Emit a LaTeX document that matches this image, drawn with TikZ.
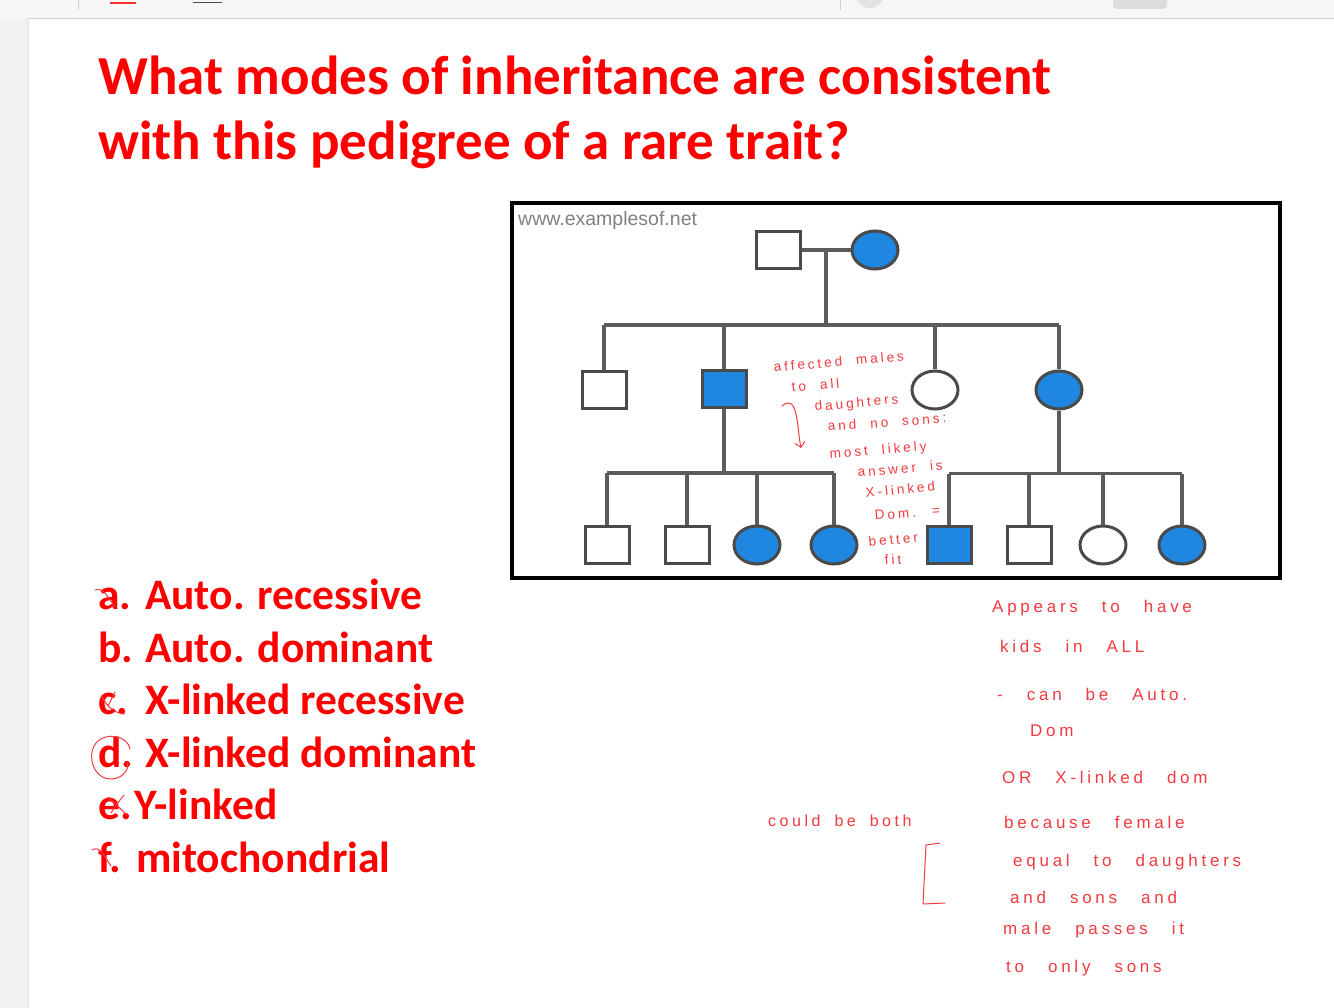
\documentclass[tikz,border=0pt]{standalone}
\usepackage{fontspec}
\setmainfont{Carlito}
\newfontfamily\handfont[LetterSpace=22]{Liberation Sans}
\newfontfamily\webfont{Liberation Sans}
\newcommand{\handwide}{\spaceskip=14pt\relax}
\newcommand{\handwider}{\spaceskip=24pt\relax}
\usetikzlibrary{positioning}
\usetikzlibrary{calc}
\usetikzlibrary{shapes.geometric}
\usetikzlibrary{arrows.meta}
\definecolor{slidered}{HTML}{FF0000}
\definecolor{pedblue}{HTML}{1F87E0}
\definecolor{pedline}{HTML}{4A4A4A}
\definecolor{penred}{HTML}{F23A3F}
\definecolor{barbg}{HTML}{F7F7F7}
\definecolor{barline}{HTML}{CFCFCF}
\definecolor{pagegray}{HTML}{F2F2F2}

\begin{document}
\begin{tikzpicture}[x=1pt,y=-1pt,
    male/.style={draw=pedline,line width=3pt,fill=white,minimum width=44pt,minimum height=37pt,inner sep=0pt},
    female/.style={ellipse,draw=pedline,line width=3pt,fill=white,minimum width=46pt,minimum height=38pt,inner sep=0pt},
    affected/.style={fill=pedblue},
    link/.style={draw=pedline!90,line width=3.2pt},
    pen/.style={draw=penred,line width=1pt,line cap=round,line join=round},
    hand/.style={text=penred,font=\handfont\fontsize{13.5}{13.5}\selectfont\handwide,inner sep=0pt,anchor=base west},
    handbig/.style={text=penred,font=\handfont\fontsize{17}{17}\selectfont\handwider,inner sep=0pt,anchor=base west},
    title/.style={text=slidered,font=\bfseries\fontsize{55}{66}\selectfont,inner sep=0pt,anchor=base west},
    choice/.style={text=slidered,font=\bfseries\fontsize{43.5}{44}\selectfont,inner sep=0pt,anchor=base west}]

  % window and page
  \useasboundingbox (0,0) rectangle (1334,1008);
  \fill[white] (0,0) rectangle (1334,1008);
  \fill[barbg] (0,0) rectangle (1334,18);
  \draw[barline] (0,18) -- (1334,18);
  \fill[pagegray] (0,18) rectangle (28,1008);
  \draw[barline!60] (28,18) -- (28,1008);
  \draw[barline] (78,0) -- (78,10);
  \draw[barline] (840,0) -- (840,10);
  \fill[slidered!80] (110,2) rectangle (136,4);
  \draw[pedline,line width=1pt] (193,3) -- (222,3);
  \fill[barline!70,rounded corners=4pt] (1113,-6) rectangle (1167,9);
  \fill[barline!60] (870,-6) circle (14);

  % title
  \node[title] (title1) at (98,95) {What modes of inheritance are consistent};
  \node[title] (title2) at (98,160) {with this pedigree of a rare trait?};

  % answer choices
  \node[choice] (la) at (98,609) {a.};
  \node[choice] (ta) at (145,609) {Auto. recessive};
  \node[choice] (lb) at (98,662) {b.};
  \node[choice] (tb) at (145,662) {Auto. dominant};
  \node[choice] (lc) at (98,714) {c.};
  \node[choice] (tc) at (145,714) {X-linked recessive};
  \node[choice] (ld) at (98,767) {d.};
  \node[choice] (td) at (145,767) {X-linked dominant};
  \node[choice] (le) at (98,819) {e.};
  \node[choice] (te) at (134,819) {Y-linked};
  \node[choice] (lf) at (98,872) {f.};
  \node[choice] (tf) at (136,872) {mitochondrial};

  % pen marks on the choices
  \draw[pen] (95,590) .. controls (103,587) and (108,597) .. (115,607);
  \draw[pen] (101,696) .. controls (106,703) and (111,713) .. (125,714);
  \draw[pen] (108,706) -- (115,692);
  \draw[pen] (108,797) -- (127,815);
  \draw[pen] (111,813) .. controls (116,805) and (120,800) .. (124,795);
  \draw[pen] (92,850) .. controls (100,845) and (104,856) .. (111,866);
  \draw[pen] (130,749) .. controls (128,736) and (106,731) .. (96,743)
    .. controls (86,756) and (94,780) .. (112,779)
    .. controls (124,778) and (130,768) .. (127,762);

  % pedigree image
  \draw[line width=4pt,fill=white] (512,203) rectangle (1280,578);
  \node[text=gray,font=\webfont\fontsize{19.5}{19.5}\selectfont,inner sep=0pt,anchor=base west] (web) at (518,226) {www.examplesof.net};

  \node[male] (I1) at (778,250) {};
  \node[female,affected] (I2) at (875,250) {};

  \node[male] (II1) at (604,390) {};
  \node[male,affected] (II2) at (724,389) {};
  \node[female] (II3) at (935,390) {};
  \node[female,affected] (II4) at (1059,390) {};

  \node[male] (III1) at (607,545) {};
  \node[male] (III2) at (687,545) {};
  \node[female,affected] (III3) at (757,545) {};
  \node[female,affected] (III4) at (834,545) {};
  \node[male,affected] (III5) at (949,545) {};
  \node[male] (III6) at (1029,545) {};
  \node[female] (III7) at (1103,545) {};
  \node[female,affected] (III8) at (1182,545) {};

  \draw[link] (I1) -- (I2);
  \coordinate (I12) at ($(I1.east)!0.5!(I2.west)$);
  \coordinate (sibII) at ($(I12)+(0,75)$);
  \draw[link] (I12) -- (sibII);
  \draw[link] (II1.north |- sibII) -- (II4.north |- sibII);
  \foreach \k in {II1,II2,II3,II4}
    \draw[link] (\k.north |- sibII) -- (\k.north);

  \coordinate (sibIIIa) at ($(II2.south)+(0,64)$);
  \draw[link] (II2.south) -- (sibIIIa);
  \draw[link] (III1.north |- sibIIIa) -- (III4.north |- sibIIIa);
  \foreach \k in {III1,III2,III3,III4}
    \draw[link] (\k.north |- sibIIIa) -- (\k.north);

  \coordinate (sibIIIb) at ($(II4.south)+(0,63)$);
  \draw[link] (II4.south) -- (sibIIIb);
  \draw[link] (III5.north |- sibIIIb) -- (III8.north |- sibIIIb);
  \foreach \k in {III5,III6,III7,III8}
    \draw[link] (\k.north |- sibIIIb) -- (\k.north);

  % notes written over the pedigree
  \node[hand,rotate=5] (n1) at (774,372) {affected males};
  \node[hand,rotate=5] (n2) at (792,392) {to all};
  \node[hand,rotate=5] (n3) at (815,411) {daughters};
  \node[hand,rotate=4] (n4) at (828,431) {and no sons:};
  \node[hand,rotate=5] (n5) at (830,459) {most likely};
  \node[hand,rotate=5] (n6) at (858,477) {answer is};
  \node[hand,rotate=6] (n7) at (866,498) {X-linked};
  \node[hand,rotate=4] (n8) at (875,520) {Dom. =};
  \node[hand,rotate=6] (n9) at (869,547) {better};
  \node[hand,rotate=4] (n10) at (885,565) {fit};
  \draw[pen,-{Straight Barb[length=5pt]}] (782,406) .. controls (798,392) and (797,428) .. (801,448);

  % notes beside the pedigree
  \node[handbig] (r1) at (992,612) {Appears to have};
  \node[handbig] (r2) at (1000,652) {kids in ALL};
  \node[handbig] (r3) at (997,700) {- can be Auto.};
  \node[handbig] (r4) at (1030,736) {Dom};
  \node[handbig] (r5) at (1002,783) {OR X-linked dom};
  \node[handbig] (r6) at (1004,828) {because female};
  \node[handbig] (r7) at (1013,866) {equal to daughters};
  \node[handbig] (r8) at (1010,903) {and sons and};
  \node[handbig] (r9) at (1003,934) {male passes it};
  \node[handbig] (r10) at (1006,972) {to only sons};

  \node[hand,font=\handfont\fontsize{16}{16}\selectfont\handwide] (both) at (768,826) {could be both};
  \draw[pen] (940,843) -- (926,845) -- (923,904) -- (945,903);
\end{tikzpicture}
\end{document}
